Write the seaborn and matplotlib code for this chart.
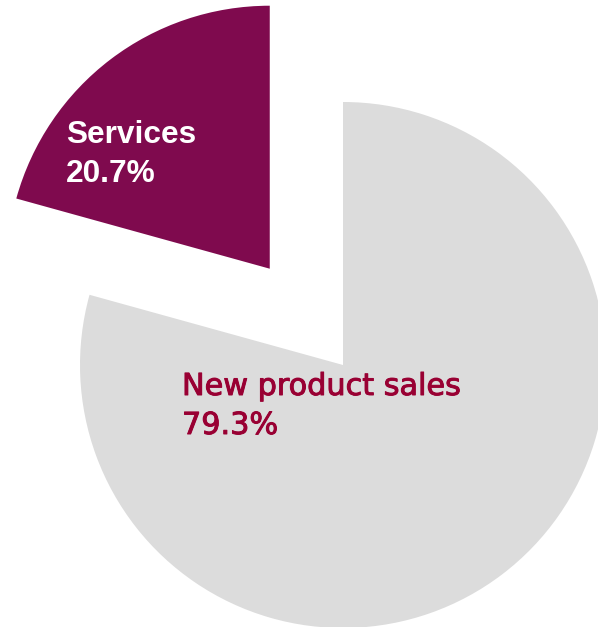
import matplotlib
matplotlib.use("Agg")
import matplotlib.pyplot as plt
import matplotlib.patheffects as pe
import seaborn as sns

sns.set_theme(style="white")
plt.rcParams["font.family"] = ["Liberation Sans", "DejaVu Sans"]

# Revenue split
categories = ["New product sales", "Services"]
shares = [79.3, 20.7]
explode = [0.0, 0.46]
colors = ["#dcdcdc", "#7f0a4e"]
label_colors = ["#990033", "#ffffff"]
label_weights = ["normal", "bold"]
label_fonts = [["DejaVu Sans"], ["Liberation Sans", "DejaVu Sans"]]
label_strokes = [0.7, 0.0]

W, H = 598, 627
fig = plt.figure(figsize=(W / 100, H / 100), dpi=100)
ax = fig.add_axes([0, 0, 1, 1])

R = 263.0          # pie radius in pixels
cx, cy = 343.0, 365.0   # pie centre in pixels (from top-left)

ax.pie(shares, explode=explode, colors=colors, startangle=90,
       counterclock=False, radius=1.0,
       wedgeprops=dict(linewidth=0, edgecolor="none", antialiased=True))

ax.set_xlim(-cx / R, (W - cx) / R)
ax.set_ylim(-(H - cy) / R, cy / R)
ax.set_aspect("equal")
ax.axis("off")


def px(x, y):
    return (x - cx) / R, (cy - y) / R


# label anchors (left edge, baseline of first line) for each slice
anchors = [(182, 395), (66, 143)]
line_gap = 39
sizes = [21.8, 22.8]
for cat, val, (lx, ly), col, wt, fs, fam, sw in zip(
        categories, shares, anchors, label_colors, label_weights,
        sizes, label_fonts, label_strokes):
    x0, y0 = px(lx, ly)
    x1, y1 = px(lx, ly + line_gap)
    effects = [pe.withStroke(linewidth=sw, foreground=col)] if sw else None
    ax.text(x0, y0, cat, color=col, fontsize=fs, fontweight=wt, family=fam,
            ha="left", va="baseline", path_effects=effects)
    ax.text(x1, y1, f"{val:.1f}%", color=col, fontsize=fs, fontweight=wt,
            family=fam, ha="left", va="baseline", path_effects=effects)

fig.savefig("out.png", dpi=100, facecolor="white")
